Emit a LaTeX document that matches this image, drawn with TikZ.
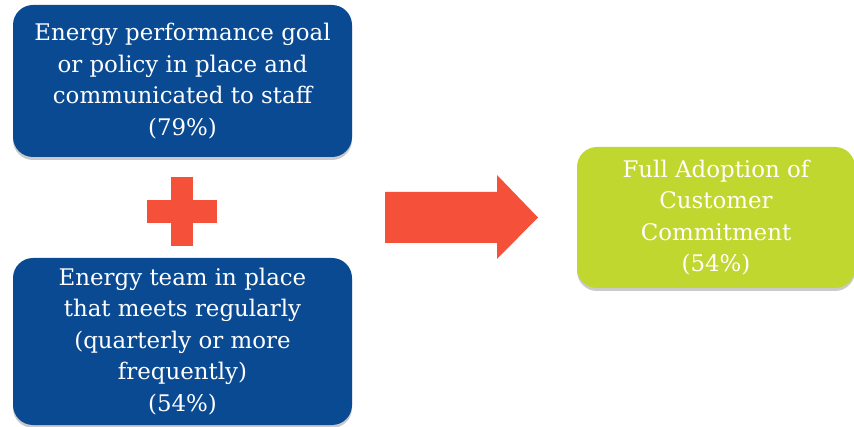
\documentclass[tikz,border=0pt]{standalone}
\usepackage{fontspec}
\setmainfont{DejaVu Serif}
\usetikzlibrary{shadows}
\definecolor{boxblue}{HTML}{0A4A93}
\definecolor{boxgreen}{HTML}{C0D72F}
\definecolor{arrred}{HTML}{F5513A}
\begin{document}
\begin{tikzpicture}[x=1pt,y=-1pt,
  card/.style={rounded corners=20pt, text=white, align=center, inner sep=0pt,
    font=\fontsize{22.9}{31.5}\selectfont,
    drop shadow={shadow xshift=0pt, shadow yshift=-3pt, opacity=0.35, fill=black!60}},
  redshape/.style={fill=arrred, draw=none}]
\useasboundingbox (0,0) rectangle (854,427);
\node[card, fill=boxblue, minimum width=339pt, minimum height=152pt] (goal) at (182.5,81)
  {Energy performance goal\\or policy in place and\\communicated to staff\\(79\%)};
\node[card, fill=boxblue, minimum width=339pt, minimum height=167pt] (team) at (182.5,341.5)
  {Energy team in place\\that meets regularly\\(quarterly or more\\frequently)\\(54\%)};
\node[card, fill=boxgreen, minimum width=278pt, minimum height=141pt] (full) at (716,217.5)
  {Full Adoption of\\Customer\\Commitment\\(54\%)};
% plus sign
\fill[redshape] (171,177) rectangle (193,246);
\fill[redshape] (147,200) rectangle (217,223);
% block arrow
\fill[redshape] (385,192) -- (497,192) -- (497,175) -- (538,217.5) -- (497,259) -- (497,243) -- (385,243) -- cycle;
\end{tikzpicture}
\end{document}
